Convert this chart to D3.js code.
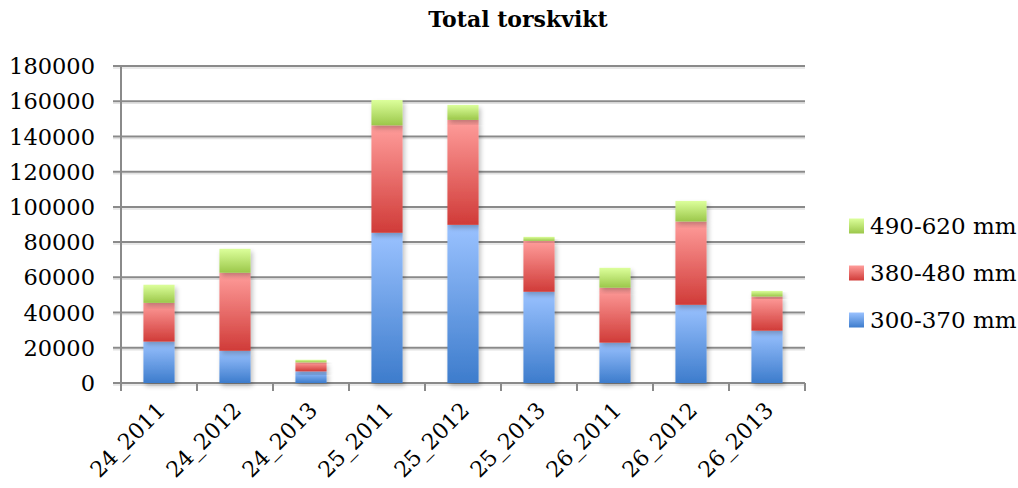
<!DOCTYPE html>
<html><head><meta charset="utf-8">
<script src="https://cdn.jsdelivr.net/npm/d3@7/dist/d3.min.js"></script>
<style>body{margin:0;background:#fff}svg{display:block}</style>
</head><body>
<svg id="chart" width="1018" height="488"></svg>
<script>
const categories = ["24_2011","24_2012","24_2013","25_2011","25_2012","25_2013","26_2011","26_2012","26_2013"];
const s300 = [23500, 18300, 6600, 85300, 89800, 51800, 22900, 44400, 29700];
const s380 = [22000, 44300, 5100, 61000, 59600, 28900, 31200, 47300, 19400];
const s490 = [10300, 13600, 1500, 14400, 8500, 2300, 11300, 11700, 3200];
const seriesNames = ["300-370 mm","380-480 mm","490-620 mm"];
const yTicks = [0,20000,40000,60000,80000,100000,120000,140000,160000,180000];
const title = "Total torskvikt";

const W = 1018, H = 488;
const M = {left:121, right:805, top:66, bottom:383};
const FONT = "'DejaVu Serif', serif";
const svg = d3.select("#chart");

const rows = categories.map((c,i)=>({cat:c, a:s300[i], b:s380[i], c:s490[i]}));
const stack = d3.stack().keys(["a","b","c"])(rows);

const x = d3.scaleBand().domain(categories).range([M.left, M.right]).paddingInner(0.59).paddingOuter(0.295);
const xb = d3.scaleBand().domain(categories).range([M.left, M.right]);
const y = d3.scaleLinear().domain([0,180000]).range([M.bottom, M.top]);

const defs = svg.append("defs");
const grads = [["#3d7ccc","#9ac2ff"],["#d03b38","#ff9d9b"],["#9bc74a","#dcff9b"]];
grads.forEach((g,i)=>{
  const lg = defs.append("linearGradient").attr("id","g"+i).attr("x1",0).attr("y1",1).attr("x2",0).attr("y2",0);
  lg.append("stop").attr("offset","0%").attr("stop-color",g[0]);
  lg.append("stop").attr("offset","100%").attr("stop-color",g[1]);
});
const f = defs.append("filter").attr("id","sh").attr("x","-20%").attr("y","-20%").attr("width","150%").attr("height","150%");
f.append("feGaussianBlur").attr("in","SourceAlpha").attr("stdDeviation",2.5).attr("result","b");
f.append("feOffset").attr("in","b").attr("dx",2).attr("dy",3).attr("result","o");
f.append("feComponentTransfer").attr("in","o").attr("result","o2").append("feFuncA").attr("type","linear").attr("slope",0.25);
const fm = f.append("feMerge"); fm.append("feMergeNode").attr("in","o2"); fm.append("feMergeNode").attr("in","SourceGraphic");

// title
svg.append("text").attr("x",518).attr("y",27).attr("text-anchor","middle")
  .attr("font-family",FONT).attr("font-weight","bold").attr("font-size",22).attr("fill","#000").text(title);

// gridlines
const grid = svg.append("g");
grid.selectAll("line.sh").data(yTicks).join("line").attr("class","sh")
  .attr("x1",M.left-8).attr("x2",M.right).attr("y1",d=>y(d)+2).attr("y2",d=>y(d)+2)
  .attr("stroke","#e2e2e2").attr("stroke-width",1.5);
grid.selectAll("line.gl").data(yTicks).join("line").attr("class","gl")
  .attr("x1",M.left-8).attr("x2",M.right).attr("y1",d=>y(d)).attr("y2",d=>y(d))
  .attr("stroke","#8a8a8a").attr("stroke-width",2);
// y axis line
svg.append("line").attr("x1",M.left).attr("x2",M.left).attr("y1",M.top).attr("y2",M.bottom+8)
  .attr("stroke","#8a8a8a").attr("stroke-width",2);
// x ticks
const xTickPos = categories.map(c=>xb(c)).concat([M.right]);
svg.selectAll("line.xt").data(xTickPos).join("line").attr("class","xt")
  .attr("x1",d=>d).attr("x2",d=>d).attr("y1",M.bottom).attr("y2",M.bottom+8)
  .attr("stroke","#8a8a8a").attr("stroke-width",2);

// y labels
svg.selectAll("text.yl").data(yTicks).join("text").attr("class","yl")
  .attr("x",95).attr("y",d=>y(d)).attr("dy","0.36em").attr("text-anchor","end")
  .attr("font-family",FONT).attr("font-size",22.5).attr("fill","#000").text(d=>d);

// bars
const bars = svg.append("g");
stack.forEach((layer,i)=>{
  bars.append("g").selectAll("rect").data(layer).join("rect")
    .attr("x",d=>x(d.data.cat)).attr("width",x.bandwidth())
    .attr("y",d=>y(d[1])).attr("height",d=>y(d[0])-y(d[1]))
    .attr("fill","url(#g"+i+")").attr("filter","url(#sh)");
});

// x labels
svg.selectAll("text.xl").data(categories).join("text").attr("class","xl")
  .attr("transform",d=>`translate(${xb(d)+xb.bandwidth()/2+2},${406}) rotate(-45)`)
  .attr("text-anchor","end").attr("dy","0.36em")
  .attr("font-family",FONT).attr("font-size",22).attr("fill","#000").text(d=>d);

// legend
const leg = svg.append("g");
const legItems = [2,1,0];
legItems.forEach((si,k)=>{
  const cy = 226 + k*47;
  leg.append("rect").attr("x",849).attr("y",cy-7.5).attr("width",15).attr("height",15).attr("fill","url(#g"+si+")");
  leg.append("text").attr("x",870).attr("y",cy).attr("dy","0.36em")
    .attr("font-family",FONT).attr("font-size",23).attr("fill","#000").text(seriesNames[si]);
});
</script>
</body></html>
